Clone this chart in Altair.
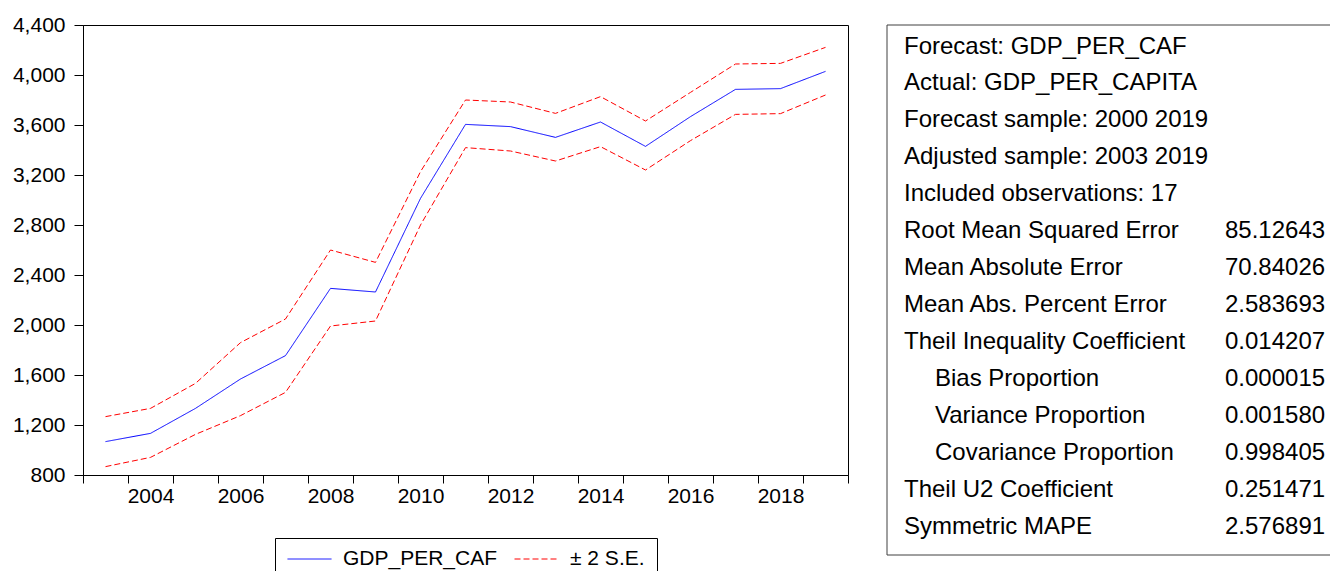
import altair as alt
import pandas as pd

FONT = "Liberation Sans, Arial, Helvetica, sans-serif"

years = list(range(2003, 2020))
forecast = [1067, 1133, 1333, 1568, 1755, 2293, 2264, 3013, 3605, 3587,
            3501, 3624, 3429, 3667, 3885, 3891, 4029]
upper = [1267, 1333, 1533, 1859, 2048, 2600, 2501, 3227, 3800, 3784,
         3693, 3827, 3632, 3861, 4088, 4093, 4221]
lower = [867, 941, 1125, 1275, 1461, 1992, 2032, 2800, 3419, 3392,
         3312, 3427, 3240, 3475, 3685, 3691, 3840]

series_names = ["GDP_PER_CAF", "± 2 S.E."]
y_ticks = [800, 1200, 1600, 2000, 2400, 2800, 3200, 3600, 4000, 4400]
x_tick_bounds = [2002.5 + i for i in range(18)]
x_labels = [2004, 2006, 2008, 2010, 2012, 2014, 2016, 2018]

stat_labels = [
    "Forecast: GDP_PER_CAF",
    "Actual: GDP_PER_CAPITA",
    "Forecast sample: 2000 2019",
    "Adjusted sample: 2003 2019",
    "Included observations: 17",
    "Root Mean Squared Error",
    "Mean Absolute Error",
    "Mean Abs. Percent Error",
    "Theil Inequality Coefficient",
    "Bias Proportion",
    "Variance Proportion",
    "Covariance Proportion",
    "Theil U2 Coefficient",
    "Symmetric MAPE",
]
stat_values = ["", "", "", "", "", "85.12643", "70.84026", "2.583693",
               "0.014207", "0.000015", "0.001580", "0.998405", "0.251471",
               "2.576891"]
stat_indent = [0, 0, 0, 0, 0, 0, 0, 0, 0, 1, 1, 1, 0, 0]

# ---- data tables ----
rows = []
for yr, f, u, l in zip(years, forecast, upper, lower):
    rows.append({"year": yr, "value": f, "series": series_names[0], "band": "f"})
    rows.append({"year": yr, "value": u, "series": series_names[1], "band": "u"})
    rows.append({"year": yr, "value": l, "series": series_names[1], "band": "l"})
df = pd.DataFrame(rows)

stats = pd.DataFrame({
    "row": list(range(len(stat_labels))),
    "label": stat_labels,
    "val": stat_values,
    "indent": stat_indent,
})

label_list = ",".join(str(v) for v in x_labels)
label_expr = (f"indexof([{label_list}], floor(datum.value)) >= 0 "
              "? format(floor(datum.value), 'd') : ''")

legend_props = dict(
    title=None, orient="none", legendX=192, legendY=513,
    direction="horizontal", symbolType="stroke", symbolSize=1936,
    symbolStrokeWidth=1, labelFontSize=21, labelFont=FONT,
    labelColor="black", strokeColor="black", fillColor="white",
    padding=12, columnPadding=16, labelOffset=11, clipHeight=18,
    labelLimit=400,
)

lines = alt.Chart(df).mark_line(strokeWidth=1).encode(
    x=alt.X("year:Q",
            scale=alt.Scale(domain=[2002.5, 2019.5], nice=False, zero=False),
            axis=alt.Axis(values=x_tick_bounds, labelExpr=label_expr,
                          labelOffset=-22.5, labelOverlap=False,
                          labelBound=False, labelFlush=False, title=None,
                          labelPadding=2)),
    y=alt.Y("value:Q",
            scale=alt.Scale(domain=[800, 4400], nice=False, zero=False),
            axis=alt.Axis(values=y_ticks, format=",d", title=None,
                          labelPadding=9, tickSize=9)),
    color=alt.Color("series:N",
                    scale=alt.Scale(domain=series_names,
                                    range=["#0000ff", "#ff0000"]),
                    legend=alt.Legend(**legend_props)),
    strokeDash=alt.StrokeDash("series:N",
                              scale=alt.Scale(domain=series_names,
                                              range=[[1, 0], [6, 3]]),
                              legend=alt.Legend(**legend_props)),
    detail="band:N",
)

box = alt.Chart(pd.DataFrame({"k": [0]})).mark_rect(
    fill="white", stroke="#404040", strokeWidth=1
).encode(
    x=alt.value(804), x2=alt.value(1262),
    y=alt.value(0), y2=alt.value(530),
)

row_y = alt.Y("row:Q", scale=alt.Scale(domain=[0, 13],
                                       range=[28.5, 28.5 + 13 * 36.95]),
              axis=None)

stat_text = alt.Chart(stats).mark_text(
    align="left", baseline="alphabetic", fontSize=24, font=FONT, color="black"
).encode(
    x=alt.X("indent:Q", scale=alt.Scale(domain=[0, 1], range=[821, 852]),
            axis=None),
    y=row_y,
    text="label:N",
)

val_text = alt.Chart(stats).mark_text(
    align="left", baseline="alphabetic", fontSize=24, font=FONT, color="black"
).encode(
    x=alt.value(1142),
    y=row_y,
    text="val:N",
)

chart = alt.layer(box, lines, stat_text, val_text).resolve_scale(
    x="independent", y="independent"
).properties(
    width=765, height=450,
    padding={"left": 75, "top": 17, "right": 482, "bottom": 96},
    autosize=alt.AutoSizeParams(type="none"),
    background="white",
).configure_view(
    stroke="black", strokeWidth=1
).configure_axis(
    domainColor="black", tickColor="black", labelColor="black",
    labelFont=FONT, labelFontSize=21, tickSize=8, grid=False,
    domainWidth=1, tickWidth=1,
)

chart.save("out.html", embed_options={"renderer": "svg", "actions": False})
